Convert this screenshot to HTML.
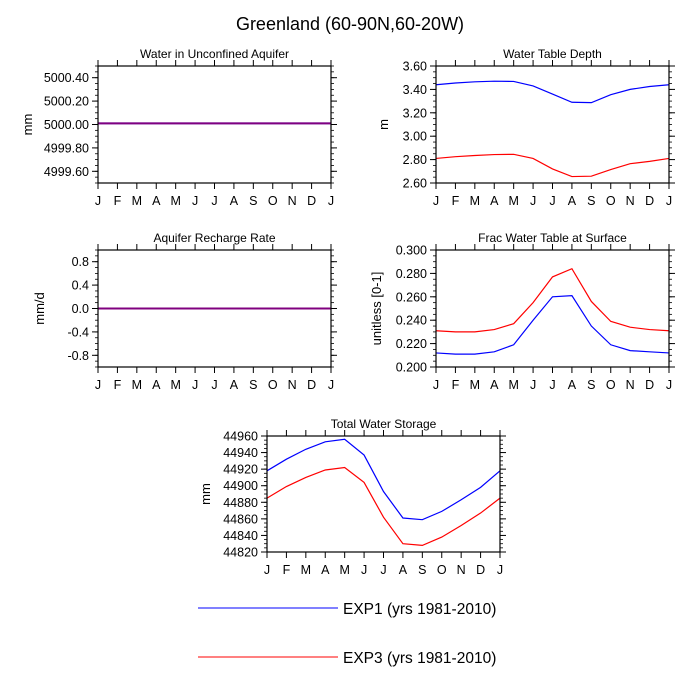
<!DOCTYPE html>
<html><head><meta charset="utf-8"><style>
body{margin:0;background:#fff;}
svg{display:block;font-family:"Liberation Sans",sans-serif;}
</style></head><body>
<svg id="c" width="700" height="700" xmlns="http://www.w3.org/2000/svg">
<text x="350" y="30" font-size="18" text-anchor="middle">Greenland (60-90N,60-20W)</text>
<line x1="198" y1="608" x2="338" y2="608" stroke="#00f"/>
<text x="343" y="614" font-size="15.5">EXP1 (yrs 1981-2010)</text>
<line x1="198" y1="657" x2="338" y2="657" stroke="#f00"/>
<text x="343" y="663" font-size="15.5">EXP3 (yrs 1981-2010)</text>
</svg>
<script>
const months=["J","F","M","A","M","J","J","A","S","O","N","D","J"];
const wuaExp1=[5000.01,5000.01,5000.01,5000.01,5000.01,5000.01,5000.01,5000.01,5000.01,5000.01,5000.01,5000.01,5000.01];
const wuaExp3=[5000.01,5000.01,5000.01,5000.01,5000.01,5000.01,5000.01,5000.01,5000.01,5000.01,5000.01,5000.01,5000.01];
const wtdExp1=[3.44,3.455,3.465,3.47,3.468,3.43,3.36,3.29,3.287,3.355,3.40,3.425,3.44];
const wtdExp3=[2.81,2.825,2.835,2.843,2.845,2.81,2.72,2.655,2.658,2.715,2.765,2.785,2.81];
const rechExp1=[0,0,0,0,0,0,0,0,0,0,0,0,0];
const rechExp3=[0,0,0,0,0,0,0,0,0,0,0,0,0];
const fracExp1=[0.212,0.211,0.211,0.213,0.219,0.24,0.26,0.261,0.235,0.219,0.214,0.213,0.212];
const fracExp3=[0.231,0.230,0.230,0.232,0.237,0.255,0.277,0.284,0.256,0.239,0.234,0.232,0.231];
const twsExp1=[44918,44932,44944,44953,44956,44937,44893,44861,44859,44869,44883,44898,44918];
const twsExp3=[44885,44899,44910,44919,44922,44904,44862,44830,44828,44838,44852,44867,44885];
const wuaTicks=["4999.60","4999.80","5000.00","5000.20","5000.40"];
const wtdTicks=["2.60","2.80","3.00","3.20","3.40","3.60"];
const rechTicks=["-0.8","-0.4","0.0","0.4","0.8"];
const fracTicks=["0.200","0.220","0.240","0.260","0.280","0.300"];
const twsTicks=["44820","44840","44860","44880","44900","44920","44940","44960"];

const svg=document.getElementById('c');
const NS="http://www.w3.org/2000/svg";
function mk(tag,attrs,parent){const e=document.createElementNS(NS,tag);for(const k in attrs)e.setAttribute(k,attrs[k]);(parent||svg).appendChild(e);return e;}

function panel(id,title,ylab,x0,y0,w,h,ymin,ymax,ticks,minorStep,s1,s3,ylabX){
  const g=mk('g',{});
  
  
  const xs=i=>x0+i*w/12;
  const ys=v=>y0+h-(v-ymin)/(ymax-ymin)*h;
  for(let v=ymin;v<=ymax+1e-9;v+=minorStep){const y=ys(v);
    mk('line',{x1:x0-3,y1:y,x2:x0,y2:y,stroke:'#000','stroke-width':0.8},g);
    mk('line',{x1:x0+w,y1:y,x2:x0+w+3,y2:y,stroke:'#000','stroke-width':0.8},g);}
  ticks.forEach(t=>{const y=ys(parseFloat(t));
    mk('line',{x1:x0-6,y1:y,x2:x0,y2:y,stroke:'#000'},g);
    mk('line',{x1:x0+w,y1:y,x2:x0+w+6,y2:y,stroke:'#000'},g);
    const tx=mk('text',{x:x0-9,y:y+4.5,'font-size':12.5,'text-anchor':'end'},g);tx.textContent=t;
    
    });
  months.forEach((m,i)=>{const x=xs(i);
    mk('line',{x1:x,y1:y0+h,x2:x,y2:y0+h+6,stroke:'#000'},g);
    mk('line',{x1:x,y1:y0-6,x2:x,y2:y0,stroke:'#000'},g);
    const tx=mk('text',{x:x,y:y0+h+22,'font-size':12.5,'text-anchor':'middle'},g);tx.textContent=m;
    
    });
  const flat=(id==='wua'||id==='rech');
  [[s1,'#00f','exp1',1],[s3,'#f00','exp3',flat?0.5:1]].forEach(([s,c,n,op])=>{
    const p=mk('polyline',{points:s.map((v,i)=>xs(i)+','+ys(v)).join(' '),fill:'none',stroke:c,'stroke-width':flat?2:1.2,'stroke-opacity':op},g);
    
    });
  const r=mk('rect',{x:x0,y:y0,width:w,height:h,fill:'none',stroke:'#000','stroke-width':1.2},g);
  
  
  const tt=mk('text',{x:x0+w/2,y:y0-8,'font-size':12,'text-anchor':'middle'},g);tt.textContent=title;
  
  
  const yl=mk('text',{x:ylabX,y:y0+h/2,'font-size':13,'text-anchor':'middle',transform:'rotate(-90 '+ylabX+' '+(y0+h/2)+')'},g);yl.textContent=ylab;
  
  
}
panel('wua','Water in Unconfined Aquifer','mm',98,66,233,117,4999.5,5000.5,wuaTicks,0.05,wuaExp1,wuaExp3,32);
panel('wtd','Water Table Depth','m',436,66,233,117,2.6,3.6,wtdTicks,0.05,wtdExp1,wtdExp3,388);
panel('rech','Aquifer Recharge Rate','mm/d',98,250,233,117,-1,1,rechTicks,0.1,rechExp1,rechExp3,44);
panel('frac','Frac Water Table at Surface','unitless [0-1]',436,250,233,117,0.2,0.3,fracTicks,0.005,fracExp1,fracExp3,381);
panel('tws','Total Water Storage','mm',267,436,233,116,44820,44960,twsTicks,5,twsExp1,twsExp3,210);
</script>
</body></html>
